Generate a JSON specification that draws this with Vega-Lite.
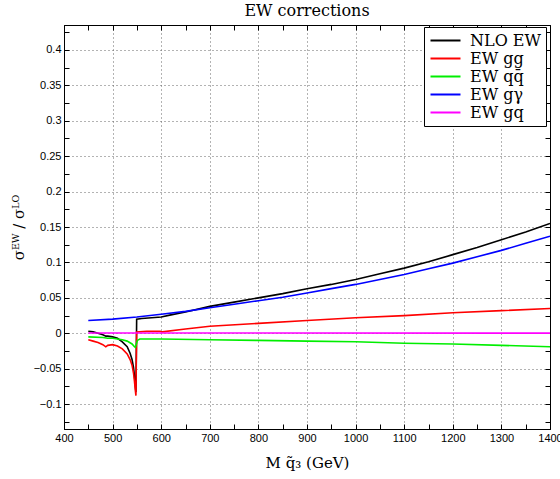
{
  "$schema": "https://vega.github.io/schema/vega-lite/v6.json",
  "autosize": "none",
  "width": 486,
  "height": 404,
  "padding": {"left": 64, "top": 25, "right": 10, "bottom": 50},
  "background": "white",
  "config": {
    "view": {"stroke": "black", "strokeWidth": 1},
    "axis": {"labelFont": "Liberation Sans", "labelFontSize": 11, "labelColor": "black", "titleFont": "DejaVu Serif", "titleFontSize": 15, "titleFontWeight": "normal", "titleColor": "black", "domainColor": "black", "tickColor": "black"}
  },
  "title": {"text": "EW corrections", "font": "DejaVu Serif", "fontSize": 16, "fontWeight": "normal", "offset": 6, "anchor": "middle", "color": "black"},
  "layer": [
    {
      "data": {"values": [
        {"M": 450, "r": 0.003, "s": "NLO EW"}, {"M": 460, "r": 0.002, "s": "NLO EW"}, {"M": 470, "r": 0.0, "s": "NLO EW"}, {"M": 480, "r": -0.002, "s": "NLO EW"}, {"M": 486, "r": -0.004, "s": "NLO EW"}, {"M": 490, "r": -0.004, "s": "NLO EW"}, {"M": 500, "r": -0.005, "s": "NLO EW"}, {"M": 510, "r": -0.007, "s": "NLO EW"}, {"M": 520, "r": -0.012, "s": "NLO EW"}, {"M": 530, "r": -0.019, "s": "NLO EW"}, {"M": 536, "r": -0.028, "s": "NLO EW"}, {"M": 540, "r": -0.037, "s": "NLO EW"}, {"M": 543, "r": -0.048, "s": "NLO EW"}, {"M": 545, "r": -0.060, "s": "NLO EW"}, {"M": 547, "r": -0.076, "s": "NLO EW"}, {"M": 548, "r": -0.083, "s": "NLO EW"}, {"M": 549.5, "r": 0.020, "s": "NLO EW"}, {"M": 560, "r": 0.021, "s": "NLO EW"}, {"M": 580, "r": 0.022, "s": "NLO EW"}, {"M": 600, "r": 0.023, "s": "NLO EW"}, {"M": 620, "r": 0.026, "s": "NLO EW"}, {"M": 650, "r": 0.030, "s": "NLO EW"}, {"M": 700, "r": 0.038, "s": "NLO EW"}, {"M": 750, "r": 0.044, "s": "NLO EW"}, {"M": 800, "r": 0.050, "s": "NLO EW"}, {"M": 850, "r": 0.056, "s": "NLO EW"}, {"M": 900, "r": 0.063, "s": "NLO EW"}, {"M": 950, "r": 0.069, "s": "NLO EW"}, {"M": 1000, "r": 0.076, "s": "NLO EW"}, {"M": 1050, "r": 0.084, "s": "NLO EW"}, {"M": 1100, "r": 0.092, "s": "NLO EW"}, {"M": 1150, "r": 0.101, "s": "NLO EW"}, {"M": 1200, "r": 0.111, "s": "NLO EW"}, {"M": 1250, "r": 0.121, "s": "NLO EW"}, {"M": 1300, "r": 0.132, "s": "NLO EW"}, {"M": 1350, "r": 0.143, "s": "NLO EW"}, {"M": 1400, "r": 0.155, "s": "NLO EW"},
        {"M": 450, "r": -0.009, "s": "EW gg"}, {"M": 460, "r": -0.011, "s": "EW gg"}, {"M": 470, "r": -0.013, "s": "EW gg"}, {"M": 480, "r": -0.016, "s": "EW gg"}, {"M": 486, "r": -0.019, "s": "EW gg"}, {"M": 490, "r": -0.017, "s": "EW gg"}, {"M": 500, "r": -0.016, "s": "EW gg"}, {"M": 510, "r": -0.018, "s": "EW gg"}, {"M": 520, "r": -0.022, "s": "EW gg"}, {"M": 530, "r": -0.029, "s": "EW gg"}, {"M": 536, "r": -0.037, "s": "EW gg"}, {"M": 540, "r": -0.045, "s": "EW gg"}, {"M": 543, "r": -0.056, "s": "EW gg"}, {"M": 545, "r": -0.068, "s": "EW gg"}, {"M": 547, "r": -0.082, "s": "EW gg"}, {"M": 548, "r": -0.088, "s": "EW gg"}, {"M": 549.5, "r": 0.002, "s": "EW gg"}, {"M": 570, "r": 0.003, "s": "EW gg"}, {"M": 598, "r": 0.003, "s": "EW gg"}, {"M": 602, "r": 0.002, "s": "EW gg"}, {"M": 650, "r": 0.006, "s": "EW gg"}, {"M": 700, "r": 0.010, "s": "EW gg"}, {"M": 800, "r": 0.014, "s": "EW gg"}, {"M": 900, "r": 0.018, "s": "EW gg"}, {"M": 1000, "r": 0.022, "s": "EW gg"}, {"M": 1100, "r": 0.025, "s": "EW gg"}, {"M": 1200, "r": 0.029, "s": "EW gg"}, {"M": 1300, "r": 0.032, "s": "EW gg"}, {"M": 1400, "r": 0.035, "s": "EW gg"},
        {"M": 450, "r": -0.005, "s": "EW qq̄"}, {"M": 480, "r": -0.006, "s": "EW qq̄"}, {"M": 490, "r": -0.007, "s": "EW qq̄"}, {"M": 500, "r": -0.007, "s": "EW qq̄"}, {"M": 520, "r": -0.009, "s": "EW qq̄"}, {"M": 530, "r": -0.011, "s": "EW qq̄"}, {"M": 540, "r": -0.015, "s": "EW qq̄"}, {"M": 545, "r": -0.019, "s": "EW qq̄"}, {"M": 547, "r": -0.020, "s": "EW qq̄"}, {"M": 551, "r": -0.010, "s": "EW qq̄"}, {"M": 556, "r": -0.008, "s": "EW qq̄"}, {"M": 600, "r": -0.008, "s": "EW qq̄"}, {"M": 700, "r": -0.009, "s": "EW qq̄"}, {"M": 800, "r": -0.010, "s": "EW qq̄"}, {"M": 900, "r": -0.011, "s": "EW qq̄"}, {"M": 1000, "r": -0.012, "s": "EW qq̄"}, {"M": 1100, "r": -0.014, "s": "EW qq̄"}, {"M": 1200, "r": -0.015, "s": "EW qq̄"}, {"M": 1300, "r": -0.017, "s": "EW qq̄"}, {"M": 1400, "r": -0.019, "s": "EW qq̄"},
        {"M": 450, "r": 0.018, "s": "EW gγ"}, {"M": 500, "r": 0.020, "s": "EW gγ"}, {"M": 550, "r": 0.023, "s": "EW gγ"}, {"M": 600, "r": 0.027, "s": "EW gγ"}, {"M": 650, "r": 0.031, "s": "EW gγ"}, {"M": 700, "r": 0.036, "s": "EW gγ"}, {"M": 750, "r": 0.041, "s": "EW gγ"}, {"M": 800, "r": 0.046, "s": "EW gγ"}, {"M": 850, "r": 0.051, "s": "EW gγ"}, {"M": 900, "r": 0.057, "s": "EW gγ"}, {"M": 950, "r": 0.063, "s": "EW gγ"}, {"M": 1000, "r": 0.069, "s": "EW gγ"}, {"M": 1050, "r": 0.076, "s": "EW gγ"}, {"M": 1100, "r": 0.083, "s": "EW gγ"}, {"M": 1150, "r": 0.091, "s": "EW gγ"}, {"M": 1200, "r": 0.099, "s": "EW gγ"}, {"M": 1250, "r": 0.108, "s": "EW gγ"}, {"M": 1300, "r": 0.117, "s": "EW gγ"}, {"M": 1350, "r": 0.127, "s": "EW gγ"}, {"M": 1400, "r": 0.137, "s": "EW gγ"},
        {"M": 450, "r": 0.0005, "s": "EW gq"}, {"M": 1400, "r": 0.0003, "s": "EW gq"}
      ]},
      "mark": {"type": "line", "strokeWidth": 1.6, "clip": true},
      "encoding": {
        "x": {"field": "M", "type": "quantitative", "scale": {"domain": [400, 1400], "nice": false, "zero": false},
          "axis": {"title": "M q̃₃ (GeV)", "values": [400,450,500,550,600,650,700,750,800,850,900,950,1000,1050,1100,1150,1200,1250,1300,1350,1400],
            "labelExpr": "datum.value % 100 === 0 ? datum.label : ''", "format": "d", "tickSize": -5, "labelPadding": 8, "labelFlush": false, "labelOverlap": false, "labelBound": false,
            "grid": true, "gridColor": "#666", "gridDash": [1, 3], "gridOpacity": {"condition": {"test": "datum.value % 100 !== 0", "value": 0}, "value": 1},
            "titlePadding": 12}},
        "y": {"field": "r", "type": "quantitative", "scale": {"domain": [-0.135, 0.435], "nice": false, "zero": false},
          "axis": {"title": "σᴱᵂ / σᴸᴼ", "values": [-0.125,-0.1,-0.075,-0.05,-0.025,0,0.025,0.05,0.075,0.1,0.125,0.15,0.175,0.2,0.225,0.25,0.275,0.3,0.325,0.35,0.375,0.4,0.425],
            "format": ".2~f", "labelExpr": "round(datum.value*40) % 2 !== 0 ? '' : datum.label", "tickSize": -5, "labelPadding": 8, "labelOverlap": false,
            "grid": true, "gridColor": "#666", "gridDash": [1, 3], "gridOpacity": {"condition": {"test": "round(datum.value*40) % 2 !== 0", "value": 0}, "value": 1},
            "titlePadding": 7}},
        "color": {"field": "s", "type": "nominal",
          "scale": {"domain": ["NLO EW", "EW gg", "EW qq̄", "EW gγ", "EW gq"], "range": ["#000000", "#ff0000", "#00ee00", "#0000ff", "#ff00ff"]},
          "legend": {"title": null, "orient": "none", "legendX": 360, "legendY": 2, "symbolType": "M-2,0H2", "symbolSize": 225, "symbolStrokeWidth": 2, "symbolOffset": 8,
            "labelFont": "DejaVu Serif", "labelFontSize": 16, "labelColor": "black", "fillColor": "white", "strokeColor": "black", "padding": 5, "rowPadding": 1, "labelOffset": 16, "labelLimit": 200}}
      }
    },
    {
      "data": {"values": [{"M": 400, "r": 0}, {"M": 1400, "r": 0}]},
      "mark": {"type": "point", "opacity": 0},
      "encoding": {
        "x": {"field": "M", "type": "quantitative", "scale": {"domain": [400, 1400], "nice": false, "zero": false},
          "axis": {"orient": "top", "title": null, "labels": false, "grid": false, "tickSize": -5, "values": [400,450,500,550,600,650,700,750,800,850,900,950,1000,1050,1100,1150,1200,1250,1300,1350,1400]}},
        "y": {"field": "r", "type": "quantitative", "scale": {"domain": [-0.135, 0.435], "nice": false, "zero": false},
          "axis": {"orient": "right", "title": null, "labels": false, "grid": false, "tickSize": -5, "values": [-0.125,-0.1,-0.075,-0.05,-0.025,0,0.025,0.05,0.075,0.1,0.125,0.15,0.175,0.2,0.225,0.25,0.275,0.3,0.325,0.35,0.375,0.4,0.425]}}
      }
    }
  ],
  "resolve": {"axis": {"x": "independent", "y": "independent"}}
}
